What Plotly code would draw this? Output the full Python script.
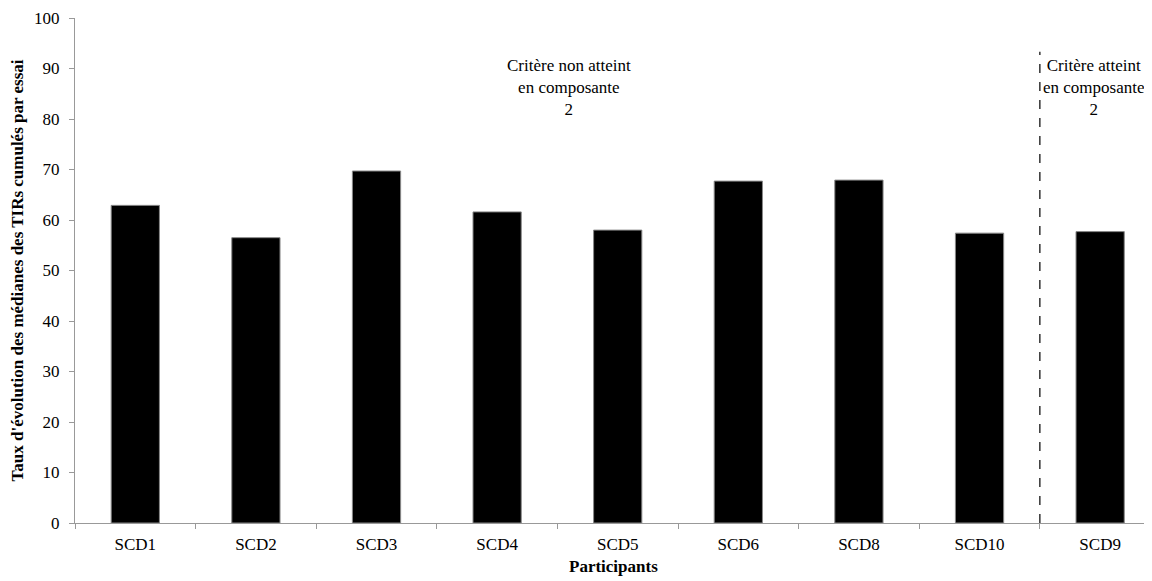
import plotly.graph_objects as go

participants = ["SCD1", "SCD2", "SCD3", "SCD4", "SCD5", "SCD6", "SCD8", "SCD10", "SCD9"]
values = [62.9, 56.5, 69.7, 61.6, 58.0, 67.7, 67.9, 57.4, 57.7]

y_ticks = list(range(0, 101, 10))

font_family = "Liberation Serif"

fig = go.Figure()
fig.add_trace(go.Bar(
    x=participants,
    y=values,
    marker=dict(color="black", line=dict(color="#888888", width=1)),
    width=0.4,
))

fig.add_shape(type="line", xref="x", yref="y", x0=7.5, x1=7.5, y0=0, y1=93.3,
              line=dict(color="#333333", width=1.5, dash="dash"))

fig.add_annotation(x=3.6, y=92.8, xref="x", yref="y", yanchor="top", showarrow=False,
                   text="Critère non atteint<br>en composante<br>2",
                   font=dict(family=font_family, size=17, color="black"), align="center")
fig.add_annotation(x=7.95, y=92.8, xref="x", yref="y", yanchor="top", showarrow=False,
                   text="Critère atteint<br>en composante<br>2",
                   font=dict(family=font_family, size=17, color="black"), align="center")
fig.add_annotation(x=0.5, y=-0.087, xref="paper", yref="paper", yanchor="middle",
                   showarrow=False, text="<b>Participants</b>",
                   font=dict(family=font_family, size=17, color="black"))

fig.update_layout(
    width=1144, height=573,
    margin=dict(l=67, r=0, t=10, b=58, autoexpand=False),
    plot_bgcolor="white", paper_bgcolor="white",
    showlegend=False,
    font=dict(family=font_family, size=16, color="black"),
    xaxis=dict(
        type="category",
        range=[-0.5, 8.43],
        automargin=False,
        showline=True, linecolor="#999999", linewidth=1,
        ticks="outside", tickson="boundaries", ticklen=5, tickcolor="#999999",
        showgrid=False,
        tickfont=dict(family=font_family, size=17),
        ticklabelstandoff=6,
    ),
    yaxis=dict(
        range=[0, 100],
        tickvals=y_ticks,
        automargin=False,
        showline=True, linecolor="#999999", linewidth=1,
        ticks="outside", ticklen=5, tickcolor="#999999",
        showgrid=False, zeroline=False,
        tickfont=dict(family=font_family, size=17),
        ticklabelstandoff=6,
        title=dict(text="<b>Taux d'évolution des médianes des TIRs cumulés par essai</b>",
                   font=dict(family=font_family, size=17), standoff=10),
    ),
)

fig.write_html("out.html")
